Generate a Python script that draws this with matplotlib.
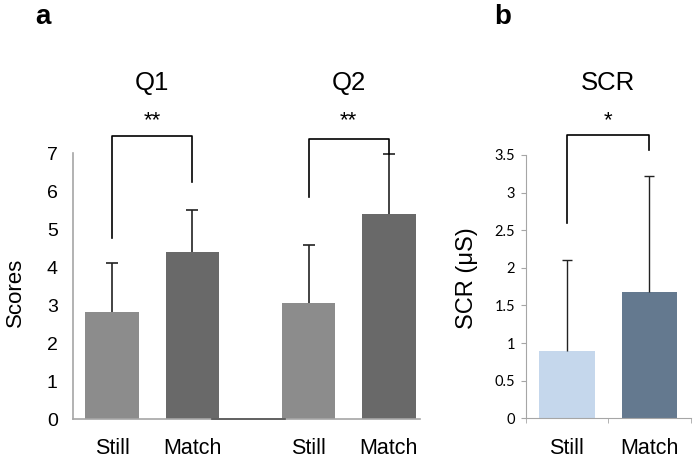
import matplotlib
matplotlib.use("Agg")
import matplotlib.pyplot as plt
from matplotlib.ticker import FixedLocator

# ---- data ----
q_labels = ["Still", "Match", "Still", "Match"]
q_means = [2.82, 4.39, 3.06, 5.39]
q_err = [1.29, 1.10, 1.51, 1.59]
q_titles = ["Q1", "Q2"]

scr_labels = ["Still", "Match"]
scr_means = [0.90, 1.68]
scr_err = [1.20, 1.54]

q_yticks = [0, 1, 2, 3, 4, 5, 6, 7]
scr_yticks = [0, 0.5, 1, 1.5, 2, 2.5, 3, 3.5]
scr_yticklabels = ["0", "0.5", "1", "1.5", "2", "2.5", "3", "3.5"]

plt.rcParams['font.family'] = ['Liberation Sans', 'DejaVu Sans']

W, H = 699, 462
fig = plt.figure(figsize=(W / 100, H / 100), dpi=100)

spine_c = "#a6a6a6"

# ---------------- panel a ----------------
axa = fig.add_axes([73 / W, 1 - 419 / H, 347 / W, 266 / H])
xa = [0, 1, 2.45, 3.45]
cols_a = ["#8c8c8c", "#696969", "#8c8c8c", "#696969"]
axa.bar(xa, q_means, width=0.67, color=cols_a, zorder=2)
eb = axa.errorbar(xa, q_means, yerr=[[0] * 4, q_err], fmt="none", ecolor="#222222",
                  elinewidth=1.2, capsize=4.5, capthick=1.2, zorder=3)
eb[1][0].set_visible(False)
axa.set_xlim(-0.49, 3.84)
axa.set_ylim(0, 7)
for s in ["top", "right"]:
    axa.spines[s].set_visible(False)
axa.spines["left"].set_color(spine_c)
axa.spines["bottom"].set_color(spine_c)
axa.spines["left"].set_linewidth(1.2)
axa.spines["bottom"].set_linewidth(1.2)
axa.plot([1.24, 2.16], [0, 0], color="#555555", lw=1.2, clip_on=False, zorder=4)
axa.set_yticks(q_yticks)
axa.set_xticks(xa)
axa.set_xticklabels(q_labels)
axa.tick_params(axis="y", length=0, pad=11, labelsize=14)
axa.tick_params(axis="x", length=0, pad=14, labelsize=15.5)

# brackets a
br = [(xa[0], xa[1], 7.45, 4.76, 6.24), (xa[2], xa[3], 7.38, 5.84, 6.98)]
for (x0, x1, top, b0, b1), t in zip(br, q_titles):
    axa.plot([x0, x0, x1, x1], [b0, top, top, b1], color="black", lw=1.2,
             clip_on=False, zorder=5)
    axa.text((x0 + x1) / 2, 7.85, "**", ha="center", va="center", fontsize=16,
             clip_on=False)
    axa.text((x0 + x1) / 2, 8.84, t, ha="center", va="center", fontsize=18.5,
             clip_on=False)

fig.text(15 / W, 1 - 292 / H, "Scores", rotation=90, ha="center", va="center",
         fontsize=16)
fig.text(43 / W, 1 - 17 / H, "a", ha="center", va="center", fontsize=20,
         fontweight="bold")

# ---------------- panel b ----------------
axb = fig.add_axes([525.7 / W, 1 - 418.3 / H, 165 / W, 263.3 / H])
xb = [0, 1]
cols_b = ["#c5d7ec", "#64798f"]
axb.bar(xb, scr_means, width=0.67, color=cols_b, zorder=2)
eb = axb.errorbar(xb, scr_means, yerr=[[0, 0], scr_err], fmt="none", ecolor="#222222",
                  elinewidth=1.0, capsize=3.5, capthick=1.0, zorder=3)
eb[1][0].set_visible(False)
axb.set_xlim(-0.5, 1.5)
axb.set_ylim(0, 3.5)
for s in ["top", "right"]:
    axb.spines[s].set_visible(False)
axb.spines["left"].set_color(spine_c)
axb.spines["bottom"].set_color(spine_c)
axb.set_yticks(scr_yticks)
axb.set_yticklabels(scr_yticklabels, fontfamily=["Lato", "DejaVu Sans"])
axb.set_xticks(xb)
axb.set_xticklabels(scr_labels)
axb.xaxis.set_minor_locator(FixedLocator([-0.5, 0.5, 1.5]))
axb.tick_params(axis="y", length=3.5, color=spine_c, pad=4, labelsize=10.5)
axb.tick_params(axis="x", which="major", length=0, pad=14, labelsize=15.5)
axb.tick_params(axis="x", which="minor", length=3.5, color=spine_c)

axb.plot([0, 0, 1, 1], [2.60, 3.76, 3.76, 3.56], color="black", lw=1.2,
         clip_on=False, zorder=5)
axb.text(0.5, 3.95, "*", ha="center", va="center", fontsize=16, clip_on=False)
axb.text(0.5, 4.46, "SCR", ha="center", va="center", fontsize=18.5, clip_on=False)

fig.text(467 / W, 1 - 278 / H, "SCR (μS)", rotation=90, ha="center", va="center",
         fontsize=17)
fig.text(503 / W, 1 - 17 / H, "b", ha="center", va="center", fontsize=20,
         fontweight="bold")

fig.savefig("out.png", dpi=100)
